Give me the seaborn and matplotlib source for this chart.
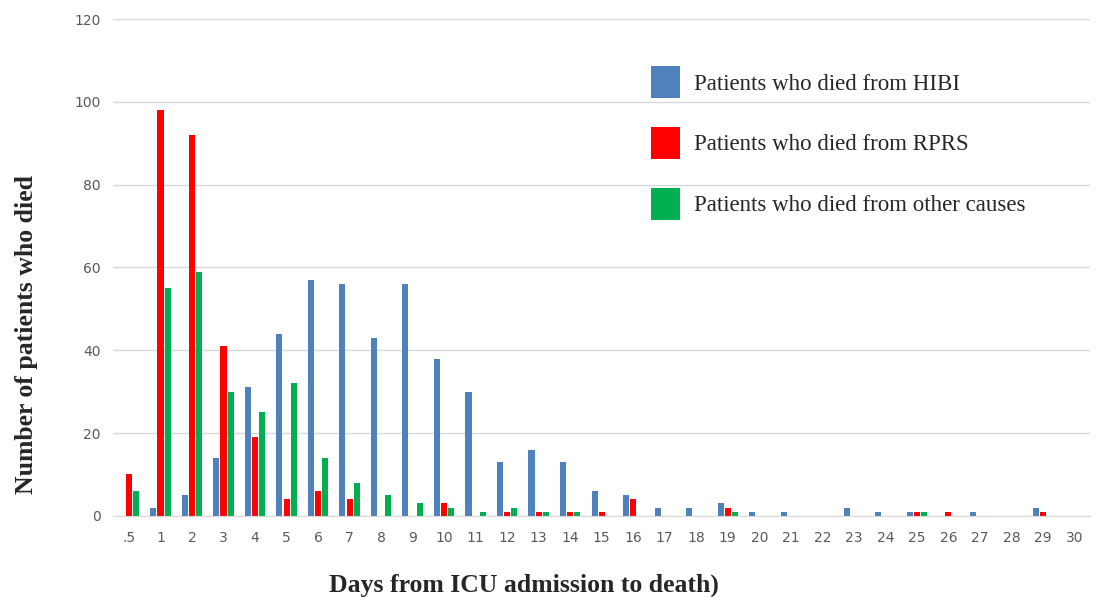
import pandas as pd
import numpy as np
import seaborn as sns
import matplotlib.pyplot as plt

days = ['.5'] + [str(d) for d in range(1, 31)]

hibi = [0, 2, 5, 14, 31, 44, 57, 56, 43, 56, 38, 30, 13, 16, 13, 6, 5, 2, 2, 3,
        1, 1, 0, 2, 1, 1, 0, 1, 0, 2, 0]
rprs = [10, 98, 92, 41, 19, 4, 6, 4, 0, 0, 3, 0, 1, 1, 1, 1, 4, 0, 0, 2,
        0, 0, 0, 0, 0, 1, 1, 0, 0, 1, 0]
other = [6, 55, 59, 30, 25, 32, 14, 8, 5, 3, 2, 1, 2, 1, 1, 0, 0, 0, 0, 1,
         0, 0, 0, 0, 0, 1, 0, 0, 0, 0, 0]

series_names = ['Patients who died from HIBI',
                'Patients who died from RPRS',
                'Patients who died from other causes']
colors = ['#4F81BD', '#FF0000', '#00B050']

df = pd.DataFrame({'day': days * 3,
                   'count': hibi + rprs + other,
                   'cause': np.repeat(series_names, len(days))})

sns.set_style('white')
fig = plt.figure(figsize=(10.99, 5.97), dpi=100)
ax = fig.add_axes([0.103, 0.136, 0.889, 0.832])

sns.barplot(data=df, x='day', y='count', hue='cause', order=days,
            hue_order=series_names, palette=colors, width=0.68, gap=0.15,
            saturation=1, ax=ax, edgecolor='none')

ax.set_ylim(0, 120)
ax.set_yticks(range(0, 121, 20))
ax.yaxis.grid(True, color='#D9D9D9', linewidth=1)
ax.set_axisbelow(True)
for s in ['top', 'right', 'left']:
    ax.spines[s].set_visible(False)
ax.spines['bottom'].set_color('#D9D9D9')
ax.tick_params(axis='both', length=0, labelsize=10, labelcolor='#595959')
ax.tick_params(axis='x', pad=11)
ax.tick_params(axis='y', pad=9)
ax.set_xlim(-0.5, len(days) - 0.5)
ax.set_xlabel('')
ax.set_ylabel('')

fig.text(524 / 1099, 1 - 585 / 597, 'Days from ICU admission to death)',
         family='Liberation Serif', fontsize=18.5, fontweight='bold',
         ha='center', va='center')
fig.text(27 / 1099, 1 - 334 / 597, 'Number of patients who died',
         family='Liberation Serif', fontsize=18.5, fontweight='bold',
         rotation=90, ha='center', va='center')

leg = ax.legend(loc='upper left', bbox_to_anchor=(0.55, 0.905), frameon=False,
                prop={'family': 'Liberation Serif', 'size': 16.5},
                handlelength=1.3, handleheight=1.75, labelspacing=1.27,
                handletextpad=0.6, borderpad=0, borderaxespad=0)

fig.savefig('out.png', dpi=100)
